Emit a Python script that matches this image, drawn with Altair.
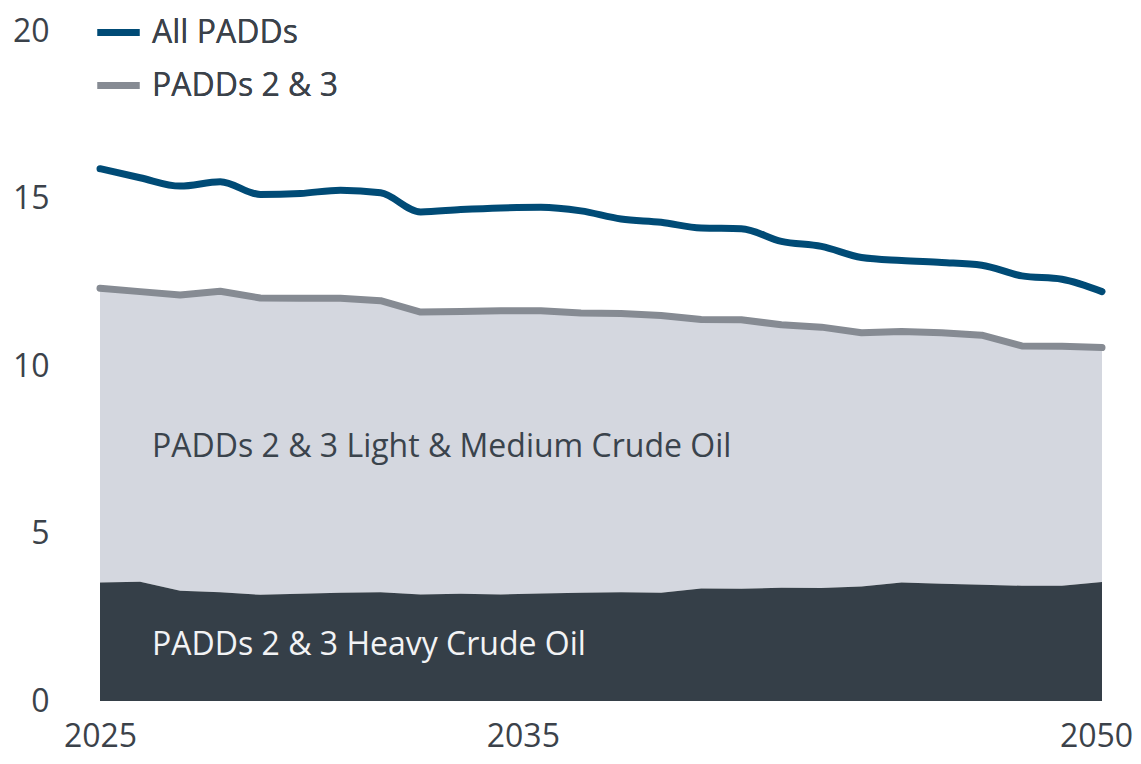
import altair as alt
import pandas as pd

years = list(range(2025, 2051))
all_padds = [15.89, 15.62, 15.37, 15.50, 15.12, 15.15, 15.25, 15.17, 14.60, 14.67,
             14.72, 14.74, 14.63, 14.39, 14.29, 14.12, 14.10, 13.72, 13.57, 13.24,
             13.15, 13.09, 13.01, 12.69, 12.59, 12.22]
padds23 = [12.32, 12.22, 12.12, 12.23, 12.03, 12.02, 12.02, 11.95, 11.61, 11.63,
           11.65, 11.65, 11.58, 11.57, 11.51, 11.39, 11.38, 11.23, 11.16, 10.99,
           11.03, 10.99, 10.92, 10.60, 10.59, 10.55]
heavy = [3.54, 3.56, 3.29, 3.25, 3.17, 3.20, 3.23, 3.25, 3.18, 3.20,
         3.18, 3.21, 3.23, 3.25, 3.23, 3.36, 3.35, 3.38, 3.37, 3.42,
         3.54, 3.50, 3.47, 3.44, 3.44, 3.55]
series_names = ["All PADDs", "PADDs 2 & 3"]
series_colors = ["#004b76", "#868b93"]
x_tick_values = [2025, 2035.55, 2049.85]
y_tick_values = [0, 5, 10, 15, 20]
area_labels = ["PADDs 2 & 3 Light & Medium Crude Oil", "PADDs 2 & 3 Heavy Crude Oil"]
area_label_x = [2026.3, 2026.3]
area_label_y = [7.58, 1.67]

FONT = "Open Sans"
TEXT = "#3b424a"
FS = 32

df = pd.DataFrame({"year": years, "heavy": heavy, "total23": padds23})
lines = pd.DataFrame({
    "year": years + years,
    "value": all_padds + padds23,
    "series": [series_names[0]] * len(years) + [series_names[1]] * len(years),
})
labels = pd.DataFrame({"x": area_label_x, "y": area_label_y, "text": area_labels,
                       "kind": ["light", "heavy"]})

xscale = alt.Scale(domain=[2025, 2050], nice=False)
yscale = alt.Scale(domain=[0, 20], nice=False)
xaxis = alt.Axis(values=x_tick_values, labelExpr="format(floor(datum.value + 0.2), 'd')",
                 title=None, grid=False, domain=False, ticks=False, labelFont=FONT,
                 labelFontSize=FS, labelColor=TEXT, labelPadding=20, labelFlush=False,
                 labelBaseline="top")
yaxis = alt.Axis(values=y_tick_values, title=None, grid=False, domain=False, ticks=False,
                 labelFont=FONT, labelFontSize=FS, labelColor=TEXT, labelPadding=51,
                 labelBaseline="middle")

base = alt.Chart(df)
light_area = base.mark_area(color="#d4d7df", interpolate="linear").encode(
    x=alt.X("year:Q", scale=xscale, axis=xaxis),
    y=alt.Y("total23:Q", scale=yscale, axis=yaxis),
    y2="heavy:Q",
)
heavy_area = base.mark_area(color="#353f48", interpolate="linear").encode(
    x=alt.X("year:Q", scale=xscale),
    y=alt.Y("heavy:Q", scale=yscale),
    y2=alt.datum(0),
)

legend = alt.Legend(title=None, orient="none", legendX=-6, legendY=-23, padding=0,
                    symbolType="stroke", symbolSize=1764, symbolStrokeWidth=7,
                    labelFont=FONT, labelFontSize=FS, labelColor=TEXT, labelOffset=9,
                    labelLimit=0, rowPadding=12, direction="vertical")
color = alt.Color("series:N", scale=alt.Scale(domain=series_names, range=series_colors),
                  legend=legend)

gray_line = alt.Chart(lines).transform_filter(
    alt.datum.series == series_names[1]
).mark_line(strokeWidth=7, strokeCap="round", strokeJoin="round", interpolate="linear").encode(
    x=alt.X("year:Q", scale=xscale),
    y=alt.Y("value:Q", scale=yscale),
    color=color,
)
blue_line = alt.Chart(lines).transform_filter(
    alt.datum.series == series_names[0]
).mark_line(strokeWidth=7, strokeCap="round", strokeJoin="round", interpolate="monotone").encode(
    x=alt.X("year:Q", scale=xscale),
    y=alt.Y("value:Q", scale=yscale),
    color=color,
)

label_layer = alt.Chart(labels).mark_text(align="left", baseline="middle", font=FONT,
                                           fontSize=FS).encode(
    x=alt.X("x:Q", scale=xscale),
    y=alt.Y("y:Q", scale=yscale),
    text="text:N",
    color=alt.Color("kind:N", scale=alt.Scale(domain=["light", "heavy"],
                                              range=["#3a434c", "#f2f3f5"]), legend=None),
)

chart = alt.layer(light_area, heavy_area, gray_line, blue_line, label_layer).resolve_scale(
    color="independent"
).properties(
    width=1002, height=670,
    autosize=alt.AutoSizeParams(type="none"),
    padding={"left": 92, "top": 23, "right": 31, "bottom": 55},
).configure_view(stroke=None)

chart.save("out.html", embed_options={"renderer": "svg", "actions": False})
